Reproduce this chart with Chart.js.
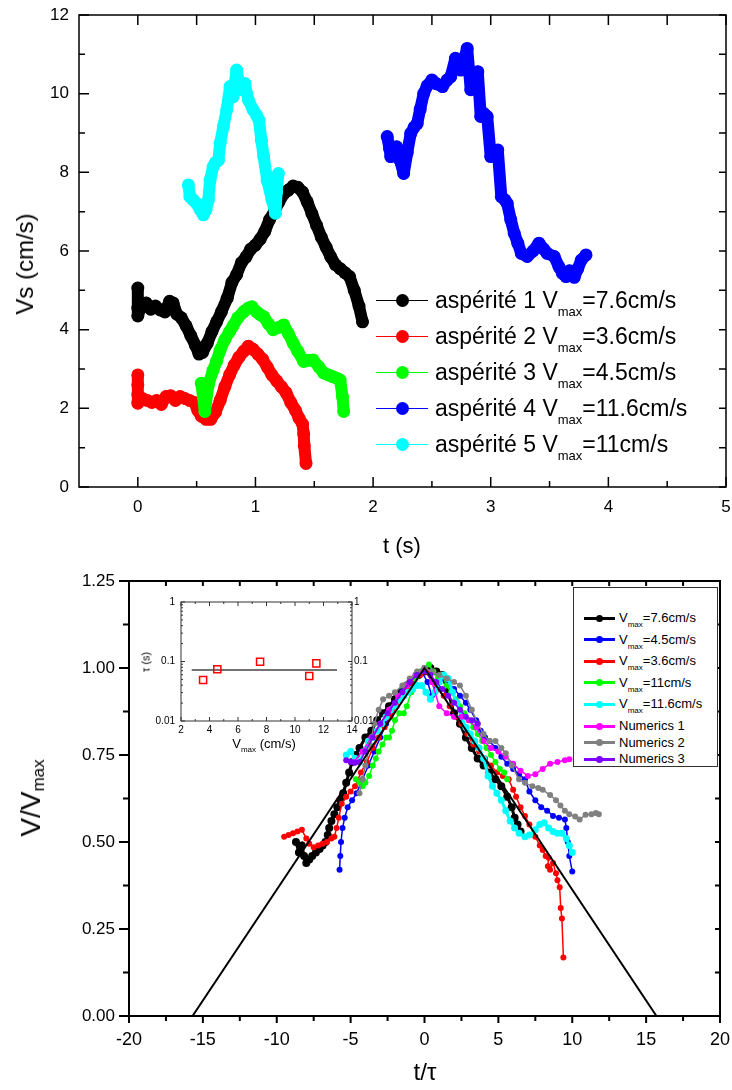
<!DOCTYPE html>
<html>
<head>
<meta charset="utf-8">
<title>Vs / V/Vmax</title>
<script src="https://cdn.jsdelivr.net/npm/chart.js@4.4.1/dist/chart.umd.min.js"></script>
<style>
html, body { margin: 0; padding: 0; background: #fff; }
body { position: relative; width: 732px; height: 1090px; overflow: hidden; font-family: "Liberation Sans", Arial, sans-serif; color: #000; }
canvas { position: absolute; }
.txt { position: absolute; white-space: nowrap; line-height: 1; }
.rot { transform: translate(-50%, -50%) rotate(-90deg); }
.ctr { transform: translate(-50%, -50%); }
.row { position: absolute; left: 0; white-space: nowrap; }
.sym i { position: absolute; display: block; }
#legTop { position: absolute; left: 376px; top: 0; }
#legBot { position: absolute; left: 573px; top: 587px; width: 143px; height: 178px; border: 1px solid #333; background: #fff; }
</style>
</head>
<body>
<canvas id="topChart" width="732" height="560" style="left:0;top:0"></canvas>
<canvas id="botChart" width="732" height="530" style="left:0;top:560px"></canvas>
<canvas id="insetChart" width="255" height="170" style="left:130px;top:590px"></canvas>

<div class="txt rot" style="left:25px;top:264px;font-size:24px">Vs (cm/s)</div>
<div class="txt ctr" style="left:402px;top:546px;font-size:22px">t (s)</div>
<div class="txt rot" id="botYTitle" style="left:32px;top:798px;font-size:28px"></div>
<div class="txt ctr" style="left:425px;top:1072px;font-size:24px">t/τ</div>
<div class="txt rot" style="left:146px;top:662px;font-size:11px">τ (s)</div>
<div class="txt ctr" id="insetXTitle" style="left:264px;top:745px;font-size:13px"></div>

<div id="legTop"></div>
<div id="legBot"></div>

<script>
// ---- top chart : Vs(t) for the five asperities ----
var topXTicks = [0, 1, 2, 3, 4, 5];
var topXMinor = [0.5, 1.5, 2.5, 3.5, 4.5];
var topYTicks = [0, 2, 4, 6, 8, 10, 12];
var topYMinor = [1, 3, 5, 7, 9, 11];
var topNames = ['aspérité 1 V_max=7.6cm/s', 'aspérité 2 V_max=3.6cm/s', 'aspérité 3 V_max=4.5cm/s',
                'aspérité 4 V_max=11.6cm/s', 'aspérité 5 V_max=11cm/s'];
var topColors = ['#000000', '#ff0000', '#00ff00', '#0000ff', '#00ffff'];

var asp1 = [[0,5.06],[0,4.55],[0,4.35],[0.03,4.62],[0.07,4.68],[0.11,4.52],[0.15,4.60],[0.19,4.50],[0.23,4.45],
  [0.27,4.72],[0.30,4.68],[0.33,4.40],[0.37,4.30],[0.41,4.10],[0.45,3.85],[0.49,3.60],[0.52,3.38],[0.55,3.42],
  [0.59,3.65],[0.63,3.95],[0.67,4.20],[0.71,4.45],[0.76,4.80],[0.80,5.20],[0.84,5.40],[0.88,5.70],[0.92,5.85],
  [0.96,6.05],[1.00,6.15],[1.04,6.30],[1.08,6.50],[1.12,6.80],[1.16,7.00],[1.20,7.25],[1.24,7.45],[1.28,7.55],
  [1.32,7.65],[1.36,7.62],[1.40,7.50],[1.44,7.25],[1.48,6.95],[1.52,6.65],[1.56,6.35],[1.60,6.10],[1.64,5.85],
  [1.68,5.65],[1.72,5.55],[1.76,5.45],[1.80,5.35],[1.84,5.00],[1.88,4.60],[1.91,4.20]];
var asp2 = [[0,2.85],[0,2.6],[0,2.35],[0,2.13],[0.04,2.25],[0.08,2.2],[0.12,2.15],[0.16,2.2],[0.2,2.1],[0.24,2.3],
  [0.28,2.32],[0.32,2.2],[0.36,2.3],[0.40,2.25],[0.44,2.2],[0.48,2.15],[0.51,1.95],[0.54,1.8],[0.58,1.72],[0.62,1.72],
  [0.66,1.9],[0.70,2.2],[0.74,2.55],[0.78,2.85],[0.82,3.1],[0.86,3.3],[0.90,3.45],[0.94,3.58],[0.98,3.5],[1.02,3.38],
  [1.06,3.25],[1.10,3.05],[1.14,2.85],[1.18,2.7],[1.22,2.55],[1.26,2.4],[1.30,2.15],[1.34,1.95],[1.37,1.75],[1.40,1.6],
  [1.41,1.35],[1.415,1.05],[1.43,0.6]];
var asp3 = [[0.54,2.64],[0.57,1.92],[0.60,2.6],[0.64,2.97],[0.67,3.2],[0.70,3.48],[0.74,3.75],[0.78,3.95],[0.81,4.1],
  [0.85,4.3],[0.90,4.46],[0.94,4.55],[0.97,4.58],[1.01,4.45],[1.04,4.38],[1.07,4.33],[1.11,4.15],[1.15,4.0],[1.19,4.05],
  [1.24,4.12],[1.28,3.9],[1.32,3.66],[1.36,3.45],[1.41,3.19],[1.45,3.22],[1.49,3.23],[1.54,3.05],[1.58,2.9],[1.62,2.85],
  [1.66,2.8],[1.70,2.75],[1.72,2.72],[1.74,2.3],[1.75,1.92]];
var asp4 = [[2.12,8.91],[2.14,8.6],[2.15,8.4],[2.18,8.55],[2.2,8.65],[2.23,8.3],[2.26,7.97],[2.29,8.5],[2.32,8.99],
  [2.35,9.15],[2.375,9.24],[2.40,9.6],[2.43,10.0],[2.46,10.2],[2.50,10.35],[2.54,10.25],[2.59,10.18],[2.63,10.35],
  [2.66,10.43],[2.70,10.9],[2.745,10.6],[2.77,10.85],[2.80,11.15],[2.83,10.1],[2.86,10.3],[2.89,10.56],[2.915,9.42],
  [2.94,9.5],[2.97,9.42],[3.0,8.4],[3.03,8.5],[3.06,8.57],[3.09,7.38],[3.12,7.3],[3.14,7.21],[3.17,6.8],[3.2,6.45],
  [3.23,6.2],[3.26,5.94],[3.31,5.86],[3.36,6.0],[3.41,6.2],[3.45,6.05],[3.48,5.94],[3.54,5.86],[3.58,5.6],[3.61,5.43],
  [3.64,5.35],[3.67,5.5],[3.71,5.33],[3.74,5.55],[3.77,5.77],[3.81,5.9]];
var asp5 = [[0.43,7.68],[0.443,7.38],[0.47,7.3],[0.50,7.21],[0.53,7.05],[0.557,6.92],[0.58,7.05],[0.60,7.3],[0.614,7.8],
  [0.64,8.14],[0.66,8.25],[0.685,8.31],[0.70,8.74],[0.727,9.16],[0.756,9.59],[0.784,10.18],[0.81,9.92],[0.84,10.6],
  [0.87,10.1],[0.91,10.26],[0.94,9.84],[0.98,9.59],[1.01,9.45],[1.03,9.33],[1.05,8.82],[1.07,8.4],[1.10,7.8],[1.14,7.3],
  [1.17,6.96],[1.18,7.5],[1.195,7.97]];
var topSeries = [asp1, asp2, asp3, asp4, asp5];

// ---- bottom chart : V/Vmax against t/tau ----
var botXTicks = [-20, -15, -10, -5, 0, 5, 10, 15, 20];
var botXMinor = [-17.5, -12.5, -7.5, -2.5, 2.5, 7.5, 12.5, 17.5];
var botYTicks = [0, 0.25, 0.5, 0.75, 1.0, 1.25];
var botYMinor = [0.125, 0.375, 0.625, 0.875, 1.125];
var botNames = ['V_max=7.6cm/s', 'V_max=4.5cm/s', 'V_max=3.6cm/s', 'V_max=11cm/s', 'V_max=11.6cm/s',
                'Numerics 1', 'Numerics 2', 'Numerics 3'];
var botColors = ['#000000', '#0000ff', '#ff0000', '#00ff00', '#00ffff', '#ff00ff', '#808080', '#8000ff'];

var vm76 = [[-8.7,0.50],[-8.5,0.47],[-8.3,0.49],[-8.15,0.46],[-8.0,0.44],[-7.8,0.45],[-7.6,0.46],[-7.35,0.47],
  [-7.1,0.48],[-6.9,0.49],[-6.7,0.50],[-6.55,0.52],[-6.45,0.54],[-6.3,0.56],[-6.1,0.58],[-5.9,0.60],[-5.7,0.62],
  [-5.5,0.64],[-5.3,0.67],[-5.1,0.70],[-4.9,0.73],[-4.65,0.75],[-4.4,0.77],[-4.0,0.80],[-3.6,0.82],[-3.2,0.85],
  [-2.8,0.87],[-2.4,0.89],[-2.0,0.91],[-1.6,0.93],[-1.2,0.95],[-0.8,0.96],[-0.4,0.98],[0.0,0.99],[0.4,1.0],[0.8,0.99],
  [1.2,0.98],[1.6,0.93],[2.0,0.87],[2.4,0.84],[2.8,0.80],[3.2,0.77],[3.6,0.74],[4.0,0.72],[4.4,0.70],[4.8,0.68],
  [5.2,0.66],[5.6,0.63],[5.9,0.60],[6.1,0.57],[6.3,0.55],[6.5,0.53]];
var vm45 = [[-5.75,0.42],[-5.7,0.46],[-5.65,0.50],[-5.55,0.54],[-5.4,0.57],[-5.2,0.60],[-4.9,0.62],[-4.6,0.64],
  [-4.2,0.68],[-3.8,0.72],[-3.4,0.76],[-3.0,0.80],[-2.6,0.84],[-2.2,0.88],[-1.8,0.91],[-1.4,0.94],[-1.0,0.96],
  [-0.6,0.98],[-0.2,0.99],[0.2,0.96],[0.5,0.92],[0.8,0.94],[1.2,0.97],[1.6,0.96],[2.0,0.94],[2.4,0.92],[2.8,0.90],
  [3.1,0.88],[3.5,0.85],[3.8,0.82],[4.1,0.80],[4.4,0.79],[4.8,0.77],[5.2,0.745],[5.6,0.725],[6.0,0.71],[6.4,0.695],
  [6.8,0.68],[7.1,0.645],[7.5,0.62],[7.9,0.60],[8.3,0.59],[8.7,0.575],[9.1,0.57],[9.5,0.565],[9.6,0.54],[9.7,0.50],
  [9.8,0.46],[10.0,0.415]];
var vm36 = [[-9.5,0.515],[-9.2,0.52],[-8.9,0.525],[-8.6,0.53],[-8.3,0.535],[-8.0,0.51],[-7.8,0.495],[-7.5,0.485],
  [-7.2,0.49],[-6.9,0.495],[-6.6,0.50],[-6.3,0.51],[-6.1,0.515],[-5.95,0.54],[-5.8,0.57],[-5.6,0.61],[-5.3,0.63],
  [-5.0,0.645],[-4.7,0.66],[-4.3,0.70],[-3.9,0.73],[-3.5,0.77],[-3.1,0.80],[-2.7,0.83],[-2.3,0.86],[-1.9,0.89],
  [-1.5,0.92],[-1.1,0.94],[-0.7,0.96],[-0.3,0.98],[0.1,0.99],[0.5,0.96],[0.9,0.94],[1.3,0.92],[1.7,0.89],[2.1,0.86],
  [2.5,0.84],[2.9,0.81],[3.3,0.78],[3.7,0.76],[4.1,0.74],[4.5,0.72],[4.9,0.70],[5.3,0.69],[5.7,0.68],[6.0,0.65],
  [6.2,0.63],[6.5,0.60],[6.8,0.575],[7.1,0.55],[7.5,0.515],[7.8,0.49],[8.0,0.477],[8.2,0.46],[8.4,0.455],[8.35,0.43],
  [8.5,0.42],[8.7,0.44],[8.9,0.41],[9.0,0.39],[9.15,0.37],[9.22,0.31],[9.3,0.28],[9.4,0.168]];
var vm11 = [[-4.65,0.68],[-4.4,0.67],[-4.2,0.66],[-4.0,0.67],[-3.75,0.69],[-3.5,0.72],[-3.3,0.74],[-3.1,0.76],
  [-2.85,0.78],[-2.6,0.80],[-2.4,0.80],[-2.2,0.82],[-2.0,0.85],[-1.7,0.87],[-1.4,0.87],[-1.2,0.89],[-0.9,0.93],
  [-0.6,0.97],[-0.3,0.99],[0.0,1.0],[0.3,1.01],[0.6,0.99],[0.9,0.97],[1.2,0.98],[1.5,0.95],[1.8,0.93],[2.1,0.91],
  [2.4,0.89],[2.7,0.87],[3.0,0.85],[3.3,0.83],[3.6,0.81],[3.9,0.79],[4.2,0.77],[4.5,0.75],[4.8,0.73],[5.1,0.71],
  [5.4,0.70],[5.6,0.68]];
var vm116 = [[-5.3,0.75],[-5.0,0.76],[-4.7,0.74],[-4.4,0.73],[-4.1,0.76],[-3.8,0.79],[-3.5,0.80],[-3.2,0.82],
  [-2.9,0.84],[-2.6,0.86],[-2.3,0.88],[-2.0,0.89],[-1.7,0.91],[-1.4,0.92],[-1.1,0.93],[-0.8,0.94],[-0.5,0.95],
  [-0.2,0.95],[0.1,0.93],[0.4,0.91],[0.7,0.93],[1.0,0.96],[1.3,0.98],[1.6,0.97],[1.9,0.93],[2.2,0.90],[2.5,0.86],
  [2.8,0.83],[3.1,0.81],[3.4,0.79],[3.7,0.77],[4.0,0.74],[4.3,0.69],[4.6,0.66],[4.9,0.64],[5.2,0.62],[5.5,0.59],
  [5.8,0.56],[6.1,0.54],[6.4,0.525],[6.8,0.515],[7.1,0.52],[7.5,0.535],[7.8,0.55],[8.1,0.555],[8.4,0.54],[8.7,0.53],
  [9.0,0.525],[9.3,0.525],[9.6,0.51],[9.8,0.49],[10.0,0.47]];
var num1 = [[-4.8,0.73],[-4.2,0.76],[-3.6,0.80],[-3.0,0.84],[-2.4,0.88],[-1.8,0.92],[-1.2,0.95],[-0.6,0.98],[0.0,1.0],
  [0.5,0.96],[1.0,0.89],[1.5,0.87],[2.0,0.86],[2.5,0.86],[3.0,0.85],[3.5,0.83],[4.0,0.79],[4.5,0.77],[5.0,0.76],
  [5.5,0.745],[6.0,0.725],[6.5,0.705],[7.0,0.69],[7.5,0.695],[8.0,0.71],[8.5,0.725],[9.0,0.73],[9.5,0.735],[9.8,0.738]];
var num2 = [[-4.4,0.64],[-4.2,0.68],[-4.0,0.72],[-3.7,0.78],[-3.4,0.84],[-3.1,0.88],[-2.8,0.91],[-2.4,0.92],[-2.0,0.93],
  [-1.5,0.95],[-1.0,0.97],[-0.5,0.99],[0.0,1.0],[0.5,0.99],[1.0,0.98],[1.5,0.97],[2.0,0.96],[2.4,0.95],[2.8,0.92],
  [3.2,0.88],[3.6,0.84],[4.0,0.81],[4.4,0.79],[4.8,0.79],[5.2,0.77],[5.5,0.755],[5.9,0.72],[6.4,0.68],[6.8,0.67],
  [7.3,0.66],[7.7,0.655],[8.0,0.65],[8.5,0.635],[8.9,0.62],[9.2,0.605],[9.5,0.59],[9.8,0.58],[10.2,0.573],[10.5,0.565],
  [10.9,0.578],[11.3,0.58],[11.6,0.583],[11.8,0.58]];
var num3 = [[-5.3,0.735],[-5.0,0.73],[-4.7,0.728],[-4.4,0.73],[-4.0,0.76],[-3.5,0.80],[-3.0,0.84],[-2.5,0.87],[-2.0,0.90],
  [-1.5,0.93],[-1.0,0.96],[-0.5,0.98],[0.0,0.99],[0.4,0.98],[0.8,0.96],[1.2,0.94],[1.6,0.92],[2.0,0.90],[2.4,0.88],
  [2.8,0.86],[3.2,0.85],[3.6,0.84]];
var triangle = [[-15.7,0],[0,1],[15.7,0]];
var botSeries = [vm76, vm45, vm36, vm11, vm116, num1, num2, num3];

// ---- inset : tau against Vmax ----
var insetXTicks = [2, 4, 6, 8, 10, 12, 14];
var insetXMinor = [3, 5, 7, 9, 11, 13];
var insetYTicks = [0.01, 0.1, 1];
var insetYMinor = [0.02, 0.03, 0.04, 0.05, 0.06, 0.07, 0.08, 0.09, 0.2, 0.3, 0.4, 0.5, 0.6, 0.7, 0.8, 0.9];
var insetVmax = [3.55, 4.55, 7.55, 11.0, 11.5];
var insetTau = [0.049, 0.074, 0.099, 0.057, 0.093];
var insetFitX = [2.75, 12.95];
var insetFitTau = 0.072;

Chart.defaults.font.family = '"Liberation Sans", Arial, sans-serif';
Chart.defaults.color = '#000';

// frame with ticks on all four sides, inward or outward
var frameTicks = {
    id: 'frameTicks',
    afterDatasetsDraw: function(chart, args, o) {
        var ctx = chart.ctx, a = chart.chartArea;
        var xs = chart.scales.x, ys = chart.scales.y;
        ctx.save();
        ctx.strokeStyle = o.color;
        ctx.lineWidth = o.width;
        ctx.strokeRect(a.left, a.top, a.right - a.left, a.bottom - a.top);
        ctx.beginPath();
        function mark(side, p, len) {
            var d = o.dir[side] * len;
            if (side === 'bottom') { ctx.moveTo(p, a.bottom); ctx.lineTo(p, a.bottom - d); }
            if (side === 'top') { ctx.moveTo(p, a.top); ctx.lineTo(p, a.top + d); }
            if (side === 'left') { ctx.moveTo(a.left, p); ctx.lineTo(a.left + d, p); }
            if (side === 'right') { ctx.moveTo(a.right, p); ctx.lineTo(a.right - d, p); }
        }
        ['bottom', 'top'].forEach(function(s) {
            o.xMajor.forEach(function(v) { mark(s, xs.getPixelForValue(v), o.len[s][0]); });
            o.xMinor.forEach(function(v) { mark(s, xs.getPixelForValue(v), o.len[s][1]); });
        });
        ['left', 'right'].forEach(function(s) {
            o.yMajor.forEach(function(v) { mark(s, ys.getPixelForValue(v), o.len[s][0]); });
            o.yMinor.forEach(function(v) { mark(s, ys.getPixelForValue(v), o.len[s][1]); });
        });
        ctx.stroke();
        ctx.restore();
    }
};
Chart.register(frameTicks);

function fixedTicks(values) {
    return function(scale) { scale.ticks = values.map(function(v) { return { value: v }; }); };
}
// force an axis box size and drop the label overhang padding Chart.js adds
function boxSize(prop, n) {
    return function(s) {
        s[prop] = n;
        s.paddingTop = 0; s.paddingBottom = 0; s.paddingLeft = 0; s.paddingRight = 0;
    };
}
function toPoints(pairs) {
    return pairs.map(function(p) { return { x: p[0], y: p[1] }; });
}
function rich(s, size, drop) {
    return s.replace('V_max', 'V<span style="font-size:' + size + 'px;line-height:1;vertical-align:-' + drop + 'px">max</span>');
}

// top chart
new Chart(document.getElementById('topChart'), {
    type: 'scatter',
    data: {
        datasets: topSeries.map(function(s, i) {
            return {
                label: topNames[i],
                data: toPoints(s),
                showLine: true,
                borderColor: topColors[i],
                backgroundColor: topColors[i],
                borderWidth: 12,
                borderJoinStyle: 'round',
                borderCapStyle: 'round',
                pointRadius: 6.5,
                pointBorderWidth: 0,
                order: 10 - i
            };
        })
    },
    options: {
        responsive: false, animation: false, devicePixelRatio: 1, events: [],
        layout: { autoPadding: false, padding: { top: 15, right: 6, left: 0, bottom: 0 } },
        plugins: {
            legend: { display: false },
            tooltip: { enabled: false },
            frameTicks: {
                color: '#000', width: 1.5,
                xMajor: topXTicks, xMinor: topXMinor, yMajor: topYTicks, yMinor: topYMinor,
                len: { bottom: [10, 6], top: [10, 10], left: [10, 6], right: [7, 7] },
                dir: { bottom: 1, top: 1, left: 1, right: 1 }
            }
        },
        scales: {
            x: {
                type: 'linear', min: -0.5, max: 5,
                grid: { display: false, drawTicks: false }, border: { display: false },
                ticks: { font: { size: 17 }, padding: 10, maxRotation: 0, autoSkip: false },
                afterBuildTicks: fixedTicks(topXTicks),
                afterFit: boxSize('height', 73)
            },
            y: {
                type: 'linear', min: 0, max: 12,
                grid: { display: false, drawTicks: false }, border: { display: false },
                ticks: { font: { size: 17 }, padding: 10, autoSkip: false },
                afterBuildTicks: fixedTicks(topYTicks),
                afterFit: boxSize('width', 79)
            }
        }
    }
});

// bottom chart
var botDatasets = [{
    label: 'triangle', data: toPoints(triangle), showLine: true,
    borderColor: '#000', borderWidth: 2, pointRadius: 0, order: 0
}];
botSeries.forEach(function(s, i) {
    var thick = (i === 0 || i === 4);
    botDatasets.push({
        label: botNames[i],
        data: toPoints(s),
        showLine: true,
        borderColor: botColors[i],
        backgroundColor: botColors[i],
        borderWidth: thick ? 3 : 1.5,
        pointRadius: i === 0 ? 4 : (i === 4 ? 3.5 : 3),
        pointBorderWidth: 0,
        order: 20 - i
    });
});

new Chart(document.getElementById('botChart'), {
    type: 'scatter',
    data: { datasets: botDatasets },
    options: {
        responsive: false, animation: false, devicePixelRatio: 1, events: [],
        layout: { autoPadding: false, padding: { top: 21, right: 12, left: 0, bottom: 0 } },
        plugins: {
            legend: { display: false },
            tooltip: { enabled: false },
            frameTicks: {
                color: '#000', width: 2,
                xMajor: botXTicks, xMinor: botXMinor, yMajor: botYTicks, yMinor: botYMinor,
                len: { bottom: [7, 5], top: [5, 5], left: [10, 6], right: [5, 5] },
                dir: { bottom: -1, top: 1, left: -1, right: 1 }
            }
        },
        scales: {
            x: {
                type: 'linear', min: -20, max: 20,
                grid: { display: false, drawTicks: false }, border: { display: false },
                ticks: { font: { size: 18 }, padding: 13, maxRotation: 0, autoSkip: false },
                afterBuildTicks: fixedTicks(botXTicks),
                afterFit: boxSize('height', 74)
            },
            y: {
                type: 'linear', min: 0, max: 1.25,
                grid: { display: false, drawTicks: false }, border: { display: false },
                ticks: { font: { size: 17 }, padding: 14, autoSkip: false,
                         callback: function(v) { return Number(v).toFixed(2); } },
                afterBuildTicks: fixedTicks(botYTicks),
                afterFit: boxSize('width', 129)
            }
        }
    }
});

// inset
new Chart(document.getElementById('insetChart'), {
    type: 'scatter',
    data: {
        datasets: [{
            label: 'fit', data: insetFitX.map(function(x) { return { x: x, y: insetFitTau }; }),
            showLine: true, borderColor: '#444', borderWidth: 1.5, pointRadius: 0, order: 1
        }, {
            label: 'tau', data: insetVmax.map(function(v, i) { return { x: v, y: insetTau[i] }; }),
            pointStyle: 'rect', pointRadius: 5, pointBorderWidth: 1.5,
            pointBorderColor: '#ff0000', pointBackgroundColor: 'rgba(0,0,0,0)', order: 0
        }]
    },
    options: {
        responsive: false, animation: false, devicePixelRatio: 1, events: [],
        layout: { autoPadding: false, padding: { top: 12, right: 0, left: 0, bottom: 0 } },
        plugins: {
            legend: { display: false },
            tooltip: { enabled: false },
            frameTicks: {
                color: '#333', width: 1,
                xMajor: insetXTicks, xMinor: insetXMinor, yMajor: insetYTicks, yMinor: insetYMinor,
                len: { bottom: [4, 2], top: [4, 2], left: [4, 2], right: [4, 2] },
                dir: { bottom: 1, top: 1, left: 1, right: 1 }
            }
        },
        scales: {
            x: {
                type: 'linear', min: 2, max: 14,
                grid: { display: false, drawTicks: false }, border: { display: false },
                ticks: { font: { size: 10 }, padding: 3, maxRotation: 0, autoSkip: false },
                afterBuildTicks: fixedTicks(insetXTicks),
                afterFit: boxSize('height', 39)
            },
            y: {
                type: 'logarithmic', min: 0.01, max: 1,
                grid: { display: false, drawTicks: false }, border: { display: false },
                ticks: { font: { size: 10 }, padding: 6, autoSkip: false,
                         callback: function(v) { return String(v); } },
                afterBuildTicks: fixedTicks(insetYTicks),
                afterFit: boxSize('width', 51)
            },
            y2: {
                type: 'logarithmic', position: 'right', min: 0.01, max: 1,
                grid: { display: false, drawTicks: false }, border: { display: false },
                ticks: { font: { size: 10 }, padding: 2, autoSkip: false,
                         callback: function(v) { return String(v); } },
                afterBuildTicks: fixedTicks(insetYTicks),
                afterFit: boxSize('width', 33)
            }
        }
    }
});

// titles with subscripts
document.getElementById('botYTitle').innerHTML = rich('V/V_max', 17, 4);
document.getElementById('insetXTitle').innerHTML = rich('V_max (cm/s)', 8, 4);

// top legend (no frame)
var legTop = document.getElementById('legTop');
topNames.forEach(function(name, i) {
    var c = topColors[i];
    var row = document.createElement('div');
    row.className = 'row';
    row.style.top = (287 + i * 36) + 'px';
    row.style.height = '26px';
    row.innerHTML =
        '<span class="sym"><i style="left:0;top:12.5px;width:52px;height:1px;background:' + c + '"></i>' +
        '<i style="left:19.5px;top:6.5px;width:13px;height:13px;border-radius:50%;background:' + c + '"></i></span>' +
        '<span style="position:absolute;left:59px;top:0;font-size:23px;line-height:26px">' + rich(name, 13, 8) + '</span>';
    legTop.appendChild(row);
});

// bottom legend (framed)
var legBot = document.getElementById('legBot');
botNames.forEach(function(name, i) {
    var c = botColors[i];
    var cy = i < 5 ? 30 + i * 21.5 : 138 + (i - 5) * 16.5;
    var row = document.createElement('div');
    row.className = 'row';
    row.style.top = (cy - 8) + 'px';
    row.style.height = '16px';
    row.innerHTML =
        '<span class="sym"><i style="left:10px;top:6.5px;width:31px;height:3px;background:' + c + '"></i>' +
        '<i style="left:21.5px;top:4.5px;width:7px;height:7px;border-radius:50%;background:' + c + '"></i></span>' +
        '<span style="position:absolute;left:45px;top:0;font-size:13px;line-height:16px">' + rich(name, 8, 5) + '</span>';
    legBot.appendChild(row);
});
</script>
</body>
</html>
